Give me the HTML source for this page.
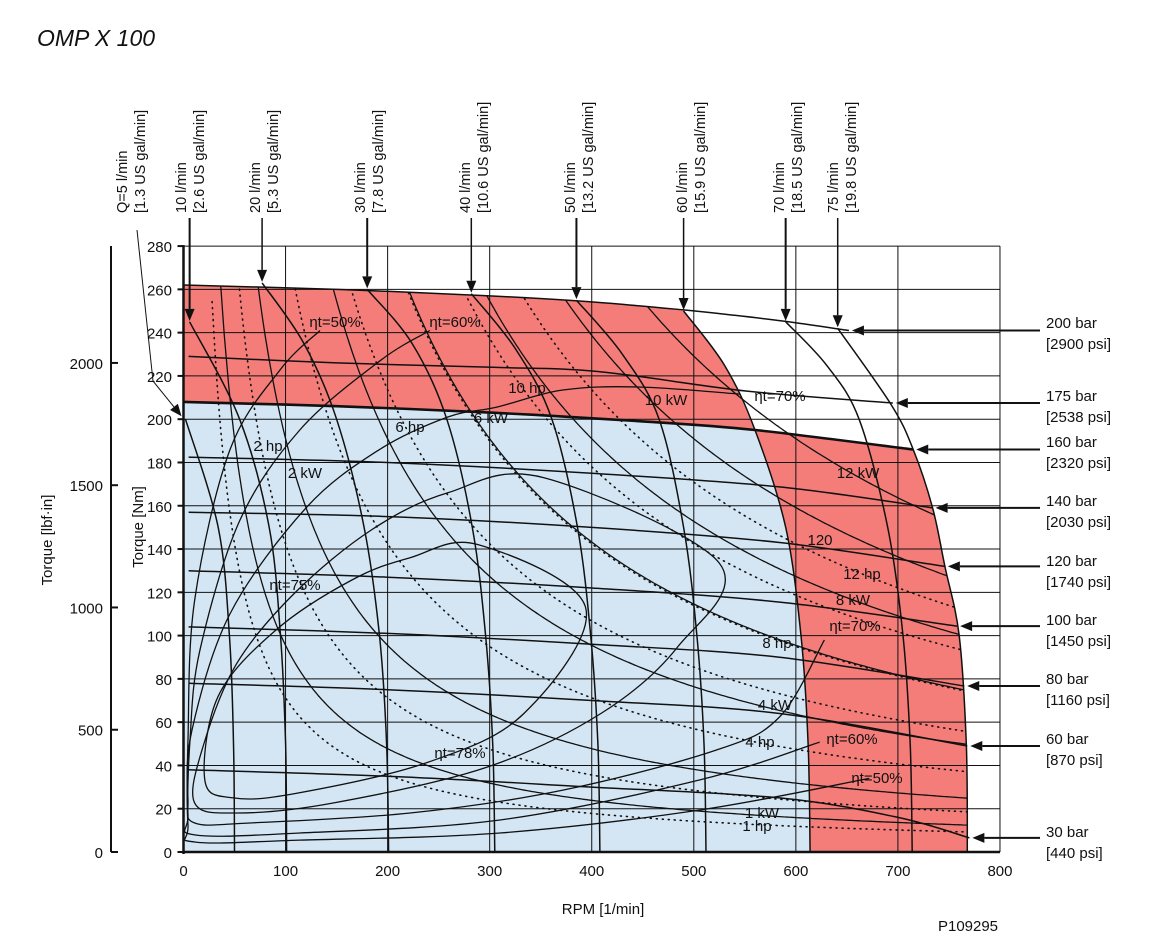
<!DOCTYPE html>
<html><head><meta charset="utf-8"><style>
body{margin:0;background:#fff}
svg{display:block;font-family:"Liberation Sans",sans-serif}
text{fill:#111}
</style></head><body>
<svg id="c" width="1161" height="949" viewBox="0 0 1161 949" xmlns="http://www.w3.org/2000/svg">
<text x="37" y="46" font-size="23" font-style="italic">OMP X 100</text>
</svg>
<script>
// ---- data ----
const rpmTicks=[0,100,200,300,400,500,600,700,800];
const nmTicks=[0,20,40,60,80,100,120,140,160,180,200,220,240,260,280];
const lbfTicks=[0,500,1000,1500,2000];
const pressureNames=["200 bar","175 bar","160 bar","140 bar","120 bar","100 bar","80 bar","60 bar","30 bar"];
const pressurePsi=["[2900 psi]","[2538 psi]","[2320 psi]","[2030 psi]","[1740 psi]","[1450 psi]","[1160 psi]","[870 psi]","[440 psi]"];
const p200=[[0,262],[150,260],[300,257],[400,254.2],[490,250.5],[540,248],[590,245.2],[652,241]];
const p175=[[5,229],[150,226],[303,224],[407,222],[552,213],[695,207.5]];
const p160=[[0,208],[150,206],[303,203],[450,199],[560,195],[715,186]];
const p140=[[5,182.5],[200,180],[400,175],[584,168.7],[734,159]];
const p120=[[5,157],[200,155],[400,150],[584,143],[746,132]];
const p100=[[5,130],[200,127],[400,122],[584,115.5],[758,104.4]];
const p80=[[5,104],[200,101],[400,96],[584,90],[765,76.7]];
const p60=[[5,78],[200,75],[400,70],[584,64],[768,49]];
const p30=[[5,38],[200,35],[400,30],[584,25],[700,16],[770,6.5]];
const flowNames=["Q=5 l/min","10 l/min","20 l/min","30 l/min","40 l/min","50 l/min","60 l/min","70 l/min","75 l/min"];
const flowGal=["[1.3 US gal/min]","[2.6 US gal/min]","[5.3 US gal/min]","[7.8 US gal/min]","[10.6 US gal/min]","[13.2 US gal/min]","[15.9 US gal/min]","[18.5 US gal/min]","[19.8 US gal/min]"];
const f5=[[50,0],[49,50],[45,100],[34,150],[2,200]];
const f10=[[101,0],[100,50],[95,100],[84,150],[55,200],[6,245]];
const f20=[[201,0],[199,50],[192,100],[177,150],[150,200],[118,235],[77,263]];
const f30=[[305,0],[303,50],[296,100],[283,150],[258,200],[224,235],[180,260]];
const f40=[[408,0],[406,50],[399,100],[386,150],[361,200],[326,232],[282,258]];
const f50=[[512,0],[510,50],[503,100],[490,150],[466,200],[430,230],[385,255]];
const f60=[[614,0],[612,50],[605,100],[590,150],[560,195],[530,225],[490,250]];
const f70=[[714,0],[712,50],[705,100],[690,150],[662,200],[630,225],[590,245]];
const f75=[[768,0],[767,50],[760,100],[746,132],[734,159],[715,186],[693,207],[641,242]];
const kwValues=[1,2,4,6,8,10,12];
const hpValues=[1,2,4,6,8,10,12];
const eff78=[[289,142],[394,113],[333.5,64],[236.5,41],[109,27],[49,25],[21,33],[34,72],[90.6,102.6],[165,125.7],[222,136]];
const eff75=[[352.7,173],[525,133.5],[484,94.7],[409,64],[296,39],[146,22.6],[52,18],[11,22.6],[19,48.5],[52,87],[109,119.7],[184,148.8],[259,166]];
const eff70=[[628,98],[584,62.4],[521.5,47],[371.7,28.6],[222,18],[65,13.4],[11,13.4],[4.4,24],[8.3,56.4],[45.5,110],[120,159],[191.5,185.8],[259,201],[307,205.6],[371.7,213.5],[446,214.9],[545,211.6]];
const eff60=[[623.4,50.8],[506,33.3],[310,14.8],[114,8.8],[11,7.9],[4.4,17],[6.4,51.8],[16,93],[55,153],[114,195],[192.5,227],[241.4,241]];
const eff50=[[672,34],[506,19.4],[310,8.8],[114,5.5],[11,4.6],[4.4,12.5],[4.4,51.8],[11,116.5],[45.5,185.8],[94.5,222.7],[133.7,241]];

// ---- scales ----
const X=r=>183.5+r*1.0206, Y=t=>852-t*2.164;
const svg=document.getElementById('c');
const NS='http://www.w3.org/2000/svg';
function mk(tag,attrs,parent){const e=document.createElementNS(NS,tag);for(const k in attrs)e.setAttribute(k,attrs[k]);(parent||svg).appendChild(e);return e;}
function px(p){return [X(p[0]),Y(p[1])];}
function f(v){return v.toFixed(1);}
function smooth(pts,start){
  const P=pts.map(px);let d=(start?'M':'L')+f(P[0][0])+','+f(P[0][1]);
  for(let i=0;i<P.length-1;i++){const p0=P[i-1]||P[i],p1=P[i],p2=P[i+1],p3=P[i+2]||p2;
    d+=`C${f(p1[0]+(p2[0]-p0[0])/6)},${f(p1[1]+(p2[1]-p0[1])/6)} ${f(p2[0]-(p3[0]-p1[0])/6)},${f(p2[1]-(p3[1]-p1[1])/6)} ${f(p2[0])},${f(p2[1])}`;}
  return d;}
function smoothClosed(pts){
  const P=pts.map(px),n=P.length;let d='M'+f(P[0][0])+','+f(P[0][1]);
  for(let i=0;i<n;i++){const p0=P[(i-1+n)%n],p1=P[i],p2=P[(i+1)%n],p3=P[(i+2)%n];
    d+=`C${f(p1[0]+(p2[0]-p0[0])/6)},${f(p1[1]+(p2[1]-p0[1])/6)} ${f(p2[0]-(p3[0]-p1[0])/6)},${f(p2[1]-(p3[1]-p1[1])/6)} ${f(p2[0])},${f(p2[1])}`;}
  return d+'Z';}

// regions
const blue=mk('path',{d:`M${X(0)},${Y(0)}L${X(0)},${Y(208)}`+smooth(p160.slice(0,5),false)+smooth(f60.slice(0,5).reverse(),false)+'Z',fill:'#d4e6f4'});


const red1=mk('path',{d:smooth(p200.slice(0,5),true)+smooth(f60.slice(4).reverse(),false)+smooth(p160.slice(0,5).reverse(),false)+'Z',fill:'#f47d79'});


const red2=mk('path',{d:smooth(p160.slice(4),true)+smooth(f75.slice(0,6).reverse(),false)+smooth(f60.slice(0,5),false)+'Z',fill:'#f47d79'});



// grid
const grid=mk('g',{stroke:'#111','stroke-width':1});


rpmTicks.forEach(r=>{if(r>0)mk('line',{x1:X(r),x2:X(r),y1:Y(280),y2:Y(0)},grid);});
nmTicks.forEach(t=>{if(t>0)mk('line',{x1:X(0),x2:X(800),y1:Y(t),y2:Y(t)},grid);});

// clip envelope
const defs=mk('defs',{});
const cp=mk('clipPath',{id:'env'},defs);
mk('path',{d:`M${X(0)},${Y(0)}L${X(0)},${Y(262)}`+smooth(p200,false)+smooth(f75.slice().reverse(),false)+'Z'},cp);

// power hyperbolas
const pw=mk('g',{fill:'none',stroke:'#111','clip-path':'url(#env)'});


function hyper(kw){let pts=[];for(let n=8;n<=800;n+=4){const t=9549*kw/n;if(t<=280)pts.push([n,t]);}return pts;}
kwValues.forEach(k=>{const e=mk('path',{d:smooth(hyper(k),true),'stroke-width':1.3},pw);

});
hpValues.forEach(h=>{const e=mk('path',{d:smooth(hyper(h*0.7457),true),'stroke-width':1.6,'stroke-dasharray':'1 5','stroke-linecap':'round'},pw);

});

// efficiency
const ef=mk('g',{fill:'none',stroke:'#111','stroke-width':1.3});


[eff78,eff75].forEach(a=>{const e=mk('path',{d:smoothClosed(a)},ef);

});
[eff70,eff60,eff50].forEach(a=>{const e=mk('path',{d:smooth(a,true)},ef);

});

// flow lines
const flows=[f5,f10,f20,f30,f40,f50,f60,f70,f75];
const fg=mk('g',{fill:'none',stroke:'#111','stroke-width':1.5});


flows.forEach(a=>{const e=mk('path',{d:smooth(a,true)},fg);

});

// pressure lines
const pres=[p200,p175,p160,p140,p120,p100,p80,p60,p30];
const pg=mk('g',{fill:'none',stroke:'#111'});


pres.forEach((a,i)=>{const e=mk('path',{d:smooth(a,true),'stroke-width':i==2?2.6:1.5},pg);

});

// axes
const ax=mk('g',{stroke:'#111',fill:'none'});


mk('line',{x1:X(0),x2:X(0),y1:Y(280)-1,y2:Y(0)+2,'stroke-width':2.5},ax);
mk('line',{x1:X(0),x2:X(800),y1:Y(0),y2:Y(0),'stroke-width':2.5},ax);
mk('line',{x1:111,x2:111,y1:246,y2:852,'stroke-width':2},ax);
nmTicks.forEach(t=>{mk('line',{x1:X(0)-6,x2:X(0),y1:Y(t),y2:Y(t),'stroke-width':2},ax);
const tx=mk('text',{x:172,y:Y(t)+6,'font-size':15,'text-anchor':'end',stroke:'none'});tx.textContent=t;

});
lbfTicks.forEach(v=>{const y=Y(v*0.113);mk('line',{x1:111,x2:118,y1:y,y2:y,'stroke-width':2},ax);
const tx=mk('text',{x:103,y:y+6,'font-size':15,'text-anchor':'end',stroke:'none'});tx.textContent=v;

});
rpmTicks.forEach(r=>{const tx=mk('text',{x:X(r),y:876,'font-size':15,'text-anchor':'middle'});tx.textContent=r;

});
function txt(s,x,y,size,name,extra){const t=mk('text',Object.assign({x:x,y:y,'font-size':size},extra||{}));t.textContent=s;

return t;}
txt('RPM [1/min]',603,914,15,'x-axis-title',{'text-anchor':'middle'});
txt('Torque [Nm]',0,0,15,'y-axis-title',{'text-anchor':'middle',transform:'translate(143,527) rotate(-90)'});
txt('Torque [lbf·in]',0,0,15,'lbf-axis-title',{'text-anchor':'middle',transform:'translate(52,540) rotate(-90)'});
txt('P109295',968,931,15,'figure-code',{'text-anchor':'middle'});

// arrows
function arrow(x1,y1,x2,y2,w,name){const g=mk('g',{});


const a=Math.atan2(y2-y1,x2-x1),L=12,H=5;
const bx=x2-L*Math.cos(a),by=y2-L*Math.sin(a);
mk('line',{x1:x1,y1:y1,x2:bx,y2:by,stroke:'#111','stroke-width':w},g);
mk('polygon',{points:`${x2},${y2} ${bx+H*Math.sin(a)},${by-H*Math.cos(a)} ${bx-H*Math.sin(a)},${by+H*Math.cos(a)}`,fill:'#111'},g);}

// top flow labels
const flowLabelX=[122,181,255,360,465,570,682,779,833];
flows.forEach((a,i)=>{const top=a[a.length-1],tx=X(top[0]),ty=Y(top[1]);
txt(flowNames[i],0,0,14.5,'flow-label',{transform:`translate(${flowLabelX[i]+5},213) rotate(-90)`});
txt(flowGal[i],0,0,14.5,'flow-label-gal',{transform:`translate(${flowLabelX[i]+23},213) rotate(-90)`});
if(i==0){mk('polyline',{points:`137,230 153,381`,stroke:'#111',fill:'none','stroke-width':1});arrow(153,381,tx-4,ty-3,1,'flow-arrow');}
else arrow(tx,218,tx,ty-1,i%2?2:1.5,'flow-arrow');});

// right pressure labels
const presLabelY=[323,396,442,501,561,620,679,739,832];
pres.forEach((a,i)=>{const e=a[a.length-1],ex=X(e[0])+3,ey=Y(e[1]);
arrow(1040,ey,ex,ey,2,'pressure-arrow');
txt(pressureNames[i],1046,presLabelY[i]+5,15,'pressure-label');
txt(pressurePsi[i],1046,presLabelY[i]+26,15,'pressure-psi-label');});

// in-chart labels
const inLabels=[["ηt=50%",335,322],["ηt=60%",455,322],["10 hp",527,388],["10 kW",666,400],["ηt=70%",780,396],["6 hp",410,427],["6 kW",491,418],["2 hp",268,446],["2 kW",305,473],["12 kW",858,473],["120",820,540],["12 hp",862,574],["8 kW",853,600],["ηt=70%",855,626],["ηt=75%",295,585],["8 hp",777,643],["4 kW",775,705],["4 hp",760,742],["ηt=60%",852,739],["ηt=78%",460,753],["ηt=50%",877,778],["1 kW",762,813],["1 hp",757,826]];
inLabels.forEach(l=>{txt(l[0],l[1],l[2]+5,15,'curve-label',{'text-anchor':'middle'});});
</script>
</body></html>
